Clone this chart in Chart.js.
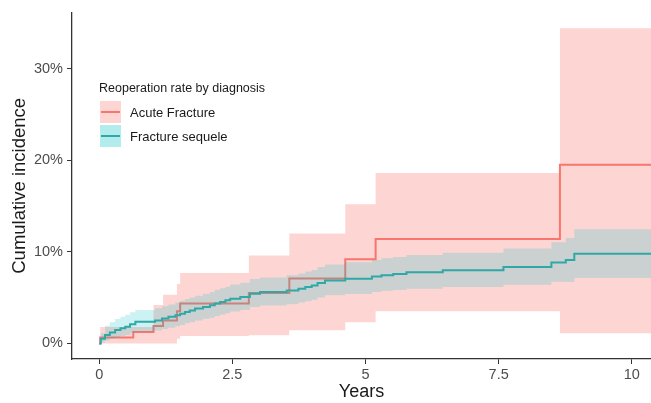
<!DOCTYPE html>
<html>
<head>
<meta charset="utf-8">
<script src="https://cdn.jsdelivr.net/npm/chart.js@4"></script>
<style>
  html, body { margin: 0; padding: 0; background: #fff; }
  canvas { display: block; }
</style>
</head>
<body>
<canvas id="chart" width="651" height="403"></canvas>
<script>
// Acute Fracture: step times (years) and cumulative incidence (%) with CI
const acuteYears = [0, 0.02, 0.64, 1.02, 1.2, 1.46, 1.52, 2.81, 3.57, 4.62, 5.19, 8.65, 10.4];
const acuteInc   = [0, 0.65, 1.25, 1.9, 2.5, 3.5, 4.35, 5.5, 7.1, 9.2, 11.4, 19.5, 19.5];
const acuteUpper = [0, 1.8, 1.8, 4.2, 5.3, 6.5, 7.7, 9.6, 12.0, 15.2, 18.6, 34.4, 34.4];
const acuteLower = [0, 0, 0, 0, 0, 0.5, 0.8, 0.9, 1.45, 2.3, 3.5, 1.1, 1.1];

// Fracture sequele
const sequeleYears = [0, 0.03, 0.11, 0.2, 0.3, 0.4, 0.49, 0.58, 0.68, 1.05, 1.18, 1.3, 1.43, 1.52, 1.61, 1.7, 1.8, 1.95, 2.08, 2.17, 2.27, 2.37, 2.46, 2.65, 2.83, 3.02, 3.52, 3.74, 3.87, 3.99, 4.1, 4.24, 4.62, 5.12, 5.3, 5.52, 5.77, 6.45, 7.59, 8.49, 8.76, 8.92, 10.4];
const sequeleInc   = [0, 0.5, 0.92, 1.2, 1.46, 1.65, 1.82, 2.1, 2.36, 2.5, 2.72, 2.9, 3.08, 3.25, 3.44, 3.6, 3.81, 3.98, 4.16, 4.35, 4.52, 4.7, 4.89, 5.06, 5.43, 5.6, 5.78, 5.97, 6.15, 6.32, 6.6, 6.86, 7.05, 7.3, 7.45, 7.59, 7.76, 8.0, 8.35, 8.84, 9.1, 9.8, 9.8];
const sequeleUpper = [0, 1.1, 1.92, 2.3, 2.66, 2.9, 3.12, 3.4, 3.66, 3.85, 4.07, 4.25, 4.48, 4.65, 4.84, 5.0, 5.21, 5.43, 5.61, 5.85, 6.02, 6.2, 6.44, 6.61, 7.03, 7.2, 7.43, 7.62, 7.85, 8.02, 8.35, 8.61, 8.85, 9.1, 9.3, 9.44, 9.66, 9.9, 10.35, 11.04, 11.5, 12.45, 12.45];
const sequeleLower = [0, 0.1, 0.32, 0.5, 0.66, 0.8, 0.92, 1.1, 1.31, 1.4, 1.57, 1.7, 1.88, 2.0, 2.19, 2.3, 2.51, 2.68, 2.81, 3.0, 3.17, 3.3, 3.49, 3.66, 3.98, 4.15, 4.28, 4.47, 4.6, 4.77, 5.0, 5.26, 5.4, 5.6, 5.75, 5.84, 5.96, 6.15, 6.4, 6.74, 6.7, 7.15, 7.15];

const xTicks = [0, 2.5, 5, 7.5, 10];
const yTicks = [0, 10, 20, 30];

const legendTitle = 'Reoperation rate by diagnosis';
const seriesNames = ['Acute Fracture', 'Fracture sequele'];

const RED = '#F8766D';
const RED_FILL = 'rgba(248,118,109,0.3)';
const TEAL = '#2FA8A8';
const TEAL_FILL = 'rgba(0,191,196,0.2)';

function toPoints(xs, ys) {
    return xs.map((x, i) => ({ x: x, y: ys[i] }));
}

function band(data, fill, color, order) {
    return {
        data: data,
        stepped: true,
        borderWidth: 0,
        borderColor: 'rgba(0,0,0,0)',
        backgroundColor: color,
        pointRadius: 0,
        fill: fill,
        order: order
    };
}

function stepLine(data, color, order) {
    return {
        data: data,
        stepped: true,
        borderWidth: 2,
        borderColor: color,
        pointRadius: 0,
        fill: false,
        order: order
    };
}

// draws the legend box inside the plot, like the ggplot guide
const legendPlugin = {
    id: 'insideLegend',
    afterDraw(chart) {
        const ctx = chart.ctx;
        ctx.save();
        ctx.fillStyle = '#1a1a1a';
        ctx.font = '12.5px "Liberation Sans", Arial, sans-serif';
        ctx.textBaseline = 'middle';
        ctx.textAlign = 'left';
        ctx.fillText(legendTitle, 99, 89);

        const keys = [
            { fill: RED_FILL, line: RED, top: 101 },
            { fill: 'rgba(0,191,196,0.3)', line: TEAL, top: 125 }
        ];
        keys.forEach((k, i) => {
            ctx.fillStyle = k.fill;
            ctx.fillRect(100, k.top, 21, 22);
            ctx.strokeStyle = k.line;
            ctx.lineWidth = 2;
            ctx.beginPath();
            ctx.moveTo(101, k.top + 11);
            ctx.lineTo(120, k.top + 11);
            ctx.stroke();
            ctx.fillStyle = '#1a1a1a';
            ctx.font = '13px "Liberation Sans", Arial, sans-serif';
            ctx.fillText(seriesNames[i], 130, k.top + 12);
        });
        ctx.restore();
    }
};

const ctx = document.getElementById('chart').getContext('2d');
new Chart(ctx, {
    type: 'line',
    data: {
        datasets: [
            band(toPoints(acuteYears, acuteLower), false, RED_FILL, 5),
            band(toPoints(acuteYears, acuteUpper), '-1', RED_FILL, 4),
            stepLine(toPoints(acuteYears, acuteInc), RED, 3),
            band(toPoints(sequeleYears, sequeleLower), false, TEAL_FILL, 2),
            band(toPoints(sequeleYears, sequeleUpper), '-1', TEAL_FILL, 1),
            stepLine(toPoints(sequeleYears, sequeleInc), TEAL, 0)
        ]
    },
    options: {
        responsive: false,
        animation: false,
        devicePixelRatio: 1,
        layout: { padding: { top: 9, right: 0, left: 0, bottom: 0 } },
        plugins: {
            legend: { display: false },
            tooltip: { enabled: false }
        },
        scales: {
            x: {
                type: 'linear',
                min: -0.51,
                max: 10.36,
                afterFit: (scale) => { scale.height = 44; },
                afterBuildTicks: (scale) => { scale.ticks = xTicks.map(v => ({ value: v })); },
                grid: { drawOnChartArea: false, drawTicks: true, tickLength: 5, color: '#333', lineWidth: 1 },
                border: { display: true, color: '#333', width: 1.3 },
                ticks: {
                    color: '#4d4d4d',
                    padding: 2,
                    maxRotation: 0,
                    font: { family: '"Liberation Sans", Arial, sans-serif', size: 14.5 },
                    callback: (v) => String(v)
                },
                title: {
                    display: true,
                    text: 'Years',
                    color: '#1a1a1a',
                    padding: 0,
                    font: { family: '"Liberation Sans", Arial, sans-serif', size: 18 }
                }
            },
            y: {
                type: 'linear',
                min: -1.7,
                max: 36.1,
                afterFit: (scale) => { scale.width = 72; },
                afterBuildTicks: (scale) => { scale.ticks = yTicks.map(v => ({ value: v })); },
                grid: { drawOnChartArea: false, drawTicks: true, tickLength: 5, color: '#333', lineWidth: 1 },
                border: { display: true, color: '#333', width: 1.3 },
                ticks: {
                    color: '#4d4d4d',
                    padding: 4,
                    font: { family: '"Liberation Sans", Arial, sans-serif', size: 14.5 },
                    callback: (v) => v + '%'
                },
                title: {
                    display: true,
                    text: 'Cumulative incidence',
                    color: '#1a1a1a',
                    padding: { top: 9, bottom: 0 },
                    font: { family: '"Liberation Sans", Arial, sans-serif', size: 18.5 }
                }
            }
        }
    },
    plugins: [legendPlugin]
});
</script>
</body>
</html>
